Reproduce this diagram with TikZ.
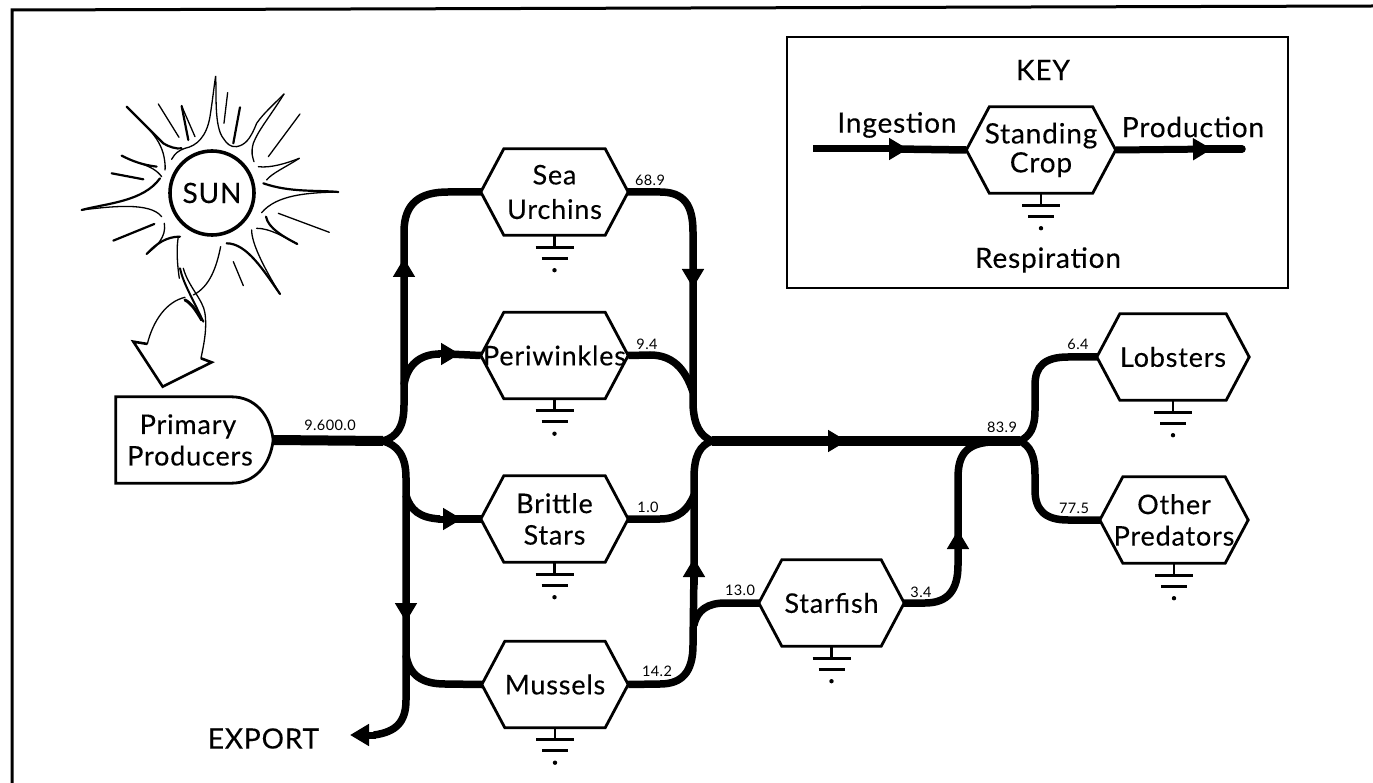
\documentclass[tikz,border=0pt]{standalone}
\usepackage{fontspec}
\setmainfont{Lato}[LetterSpace=3,FakeBold=0.25]
\newfontfamily\labfont{Lato}[LetterSpace=3]
\usetikzlibrary{arrows.meta}
\newcommand{\hexfont}{\fontsize{27}{31.5}\selectfont}
\newcommand{\keyfont}{\fontsize{28}{30}\selectfont}
\tikzset{
  hexbox/.style={minimum width=147pt,minimum height=86pt,inner sep=0pt,align=center,font=\hexfont},
  hexline/.style={line width=2.8pt,line join=miter},
  flow/.style={line width=7.5pt},
  flowmain/.style={line width=10pt},
  flowhead/.style={line width=7pt,-{Triangle[length=19pt,width=21pt]}},
  flowheadmain/.style={flowmain,-{Triangle[length=19pt,width=21pt]}},
  lab/.style={font=\labfont\fontsize{14.5}{15}\selectfont,inner sep=0pt},
  big/.style={font=\keyfont,inner sep=0pt,align=center},
  sunthin/.style={line width=1.3pt,line cap=round},
  sunthick/.style={line width=2.2pt,line cap=round},
}
\newcommand{\hexn}[5]{%
  \node[hexbox,minimum width=#5pt] (#1) at (#2,#3) {#4};
  \draw[hexline] (#1.west) -- ([xshift=23pt]#1.north west) -- ([xshift=-23pt]#1.north east)
     -- (#1.east) -- ([xshift=-23pt]#1.south east) -- ([xshift=23pt]#1.south west) -- cycle;
  \draw[line width=2.8pt] (#1.south) -- ++(0,12);
  \draw[line width=2.8pt] ([shift={(-19,12)}]#1.south) -- ++(38,0);
  \draw[line width=2.8pt] ([shift={(-13,23)}]#1.south) -- ++(26,0);
  \fill ([shift={(0,35)}]#1.south) circle (2.2pt);
}
\begin{document}
\begin{tikzpicture}[x=1pt,y=-1pt]
\useasboundingbox (0,0) rectangle (1373,783);
% frame
\coordinate (frameA) at (12,783);
\coordinate (frameB) at (12,10);
\coordinate (frameC) at (1373,6);
\draw[line width=3pt,line join=miter] (frameA) -- (frameB) -- (frameC);
% key box
\node[draw,line width=2.8pt,minimum width=501pt,minimum height=251pt,inner sep=0pt] (keybox) at (1037.5,162.5) {};
\node[big] (keytitle) at (1043,70) {KEY};
\node[big] (keying) at (897,125) {Ingestion};
\node[big] (keyprod) at (1193,127) {Production};
\node[big] (keyresp) at (1048,260) {Respiration};
\node[hexbox,minimum width=149pt,font=\keyfont,align=center] (keyhex) at (1041,150) {Standing\\[-1pt]Crop};
\draw[hexline] (keyhex.west) -- ([xshift=23pt]keyhex.north west) -- ([xshift=-23pt]keyhex.north east)
   -- (keyhex.east) -- ([xshift=-23pt]keyhex.south east) -- ([xshift=23pt]keyhex.south west) -- cycle;
\draw[line width=2.8pt] (keyhex.south) -- ++(0,12);
\draw[line width=2.8pt] ([shift={(-19,12)}]keyhex.south) -- ++(38,0);
\draw[line width=2.8pt] ([shift={(-13,23)}]keyhex.south) -- ++(26,0);
\fill ([shift={(0,35)}]keyhex.south) circle (2.2pt);
\coordinate (keyA) at (813,149);
\coordinate (keyB) at (908,149);
\coordinate (keyC) at (1212,149);
\coordinate (keyD) at (1242,149);
\draw[flowhead] (keyA) -- (keyB);
\draw[flow] ([xshift=-12pt]keyB) -- (keyhex.west);
\draw[flowhead] (keyhex.east) -- (keyC);
\draw[flow,line cap=round] ([xshift=-12pt]keyC) -- (keyD);
% nodes
\hexn{urch}{554.5}{192}{Sea\\[3pt]Urchins}{147}
\hexn{peri}{554.5}{355.5}{Periwinkles}{147}
\hexn{brit}{554.5}{519}{Brittle\\Stars}{147}
\hexn{muss}{555}{684.5}{\raisebox{-3pt}{Mussels}}{146}
\hexn{star}{831.5}{603}{\raisebox{-3pt}{Starfish}}{145}
\hexn{lobs}{1173}{357}{\raisebox{-3pt}{Lobsters}}{152}
\hexn{pred}{1174}{520}{Other\\Predators}{148}
% primary producers
\node[minimum width=157pt,minimum height=86pt,inner sep=0pt,align=center,font=\hexfont] (prim) at (194.5,440) {Primary\hspace*{13pt}\\Producers\hspace*{9pt}};
\draw[hexline] (prim.east) .. controls ([shift={(-3,-25)}]prim.east) and ([shift={(-18,0)}]prim.north east) .. ([xshift=-42pt]prim.north east)
  -- (prim.north west) -- (prim.south west) -- ([xshift=-42pt]prim.south east)
  .. controls ([shift={(-18,0)}]prim.south east) and ([shift={(-3,25)}]prim.east) .. (prim.east);
% junctions
\coordinate (jl) at (383,441);
\coordinate (jm) at (712,441);
\coordinate (je) at (1020,441);
\coordinate (up) at (404,258);
\coordinate (dn) at (406,622);
\coordinate (pa) at (460,354);
\coordinate (ba) at (462,519);
\coordinate (ta) at (693,288);
\coordinate (ua) at (694,558);
\coordinate (ma) at (847,441);
\coordinate (sa) at (958,530);
\coordinate (ex) at (350,735);
% flows left
\draw[flowmain] (prim.east) -- (jl);
\draw[flow] (jl) .. controls (397,437) and (404,427) .. (404,405) -- (404,270);
\draw[flowhead] (404,285) -- (up);
\draw[flow] (404,270) -- (404,232) .. controls (404,203) and (420,192) .. (448,192) -- (urch.west);
\draw[flow] (404,385) .. controls (407,365) and (420,354) .. (440,354);
\draw[flowhead] (438,354) -- (pa);
\draw[flow] (448,354) -- (peri.west);
\draw[flow] (jl) .. controls (397,445) and (406,455) .. (406,478) -- (406,610);
\draw[flowhead] (406,595) -- (dn);
\draw[flow] (406,610) -- (406,700) .. controls (406,722) and (396,732) .. (374,735);
\draw[flowhead] (376,735) -- (ex);
\draw[flow] (406,495) .. controls (410,510) and (420,518) .. (440,519);
\draw[flowhead] (438,519) -- (ba);
\draw[flow] (450,519) -- (brit.west);
\draw[flow] (406,655) .. controls (409,675) and (422,684) .. (445,684) -- (muss.west);
% flows right
\draw[flow] (urch.east) -- (660,192) .. controls (684,192) and (693,205) .. (693,232) -- (693,276);
\draw[flowhead] (693,262) -- (ta);
\draw[flow] (693,276) -- (693,405) .. controls (694,425) and (700,436) .. (jm);
\draw[flow] (peri.east) -- (650,355) .. controls (672,355) and (685,368) .. (693,392);
\draw[flow] (muss.east) -- (660,684) .. controls (682,684) and (693,672) .. (693,645) -- (694,570);
\draw[flowhead] (694,585) -- (ua);
\draw[flow] (694,570) -- (694,478) .. controls (694,456) and (700,445) .. (jm);
\draw[flow] (brit.east) -- (660,519) .. controls (678,519) and (688,510) .. (694,495);
\draw[flow] (694,625) .. controls (697,610) and (708,603) .. (725,603) -- (star.west);
\draw[flowheadmain] (jm) -- (ma);
\draw[flowmain] (835,441) -- (je);
\draw[flow] (star.east) -- (925,603) .. controls (948,603) and (958,590) .. (958,565) -- (958,542);
\draw[flowhead] (958,555) -- (sa);
\draw[flow] (958,542) -- (958,478) .. controls (958,455) and (966,444) .. (990,442);
\draw[flow] (je) .. controls (1030,436) and (1035,428) .. (1035,410) -- (1035,385) .. controls (1035,366) and (1045,357) .. (1068,357) -- (lobs.west);
\draw[flow] (je) .. controls (1030,446) and (1035,455) .. (1035,475) -- (1035,490) .. controls (1035,510) and (1045,520) .. (1068,520) -- (pred.west);
% labels
\node[lab] (l1) at (330,425) {9.600.0};
\node[lab] (l2) at (650,180) {68.9};
\node[lab] (l3) at (647,344) {9.4};
\node[lab] (l4) at (648,507) {1.0};
\node[lab] (l5) at (657,671) {14.2};
\node[lab] (l6) at (740,590) {13.0};
\node[lab] (l7) at (921,592) {3.4};
\node[lab] (l8) at (1002,427) {83.9};
\node[lab] (l9) at (1078,344) {6.4};
\node[lab] (l10) at (1074,508) {77.5};
\node[inner sep=0pt,font=\fontsize{28}{30}\selectfont] (export) at (263.5,738.5) {EXPORT};
% sun
\node[draw,circle,line width=3.6pt,minimum size=84pt,inner sep=0pt,font=\fontsize{28}{30}\selectfont] (sun) at (212,193) {SUN};
\begin{scope}[x=0.3333pt,y=-0.3333pt,shift={(180,60)}]
\draw[sunthin] (335,418) .. controls (345,400) and (355,392) .. (375,385) .. controls (410,378) and (440,350) .. (450,290) .. controls (458,240) and (462,200) .. (467,168)
  .. controls (470,220) and (462,320) .. (490,355) .. controls (500,370) and (510,382) .. (530,380) .. controls (555,375) and (570,360) .. (590,310) .. controls (610,280) and (650,245) .. (672,222);
\draw[sunthin] (672,222) .. controls (630,290) and (595,330) .. (580,370) .. controls (572,400) and (578,410) .. (582,425);
\draw[sunthick] (200,260) .. controls (240,300) and (275,335) .. (310,370) .. controls (325,380) and (350,388) .. (365,385);
\draw[sunthin] (200,260) .. controls (250,310) and (300,350) .. (312,410) .. controls (316,430) and (316,445) .. (315,450);
\draw[sunthick] (835,516) .. controls (770,510) and (690,518) .. (610,490);
\draw[sunthin] (835,516) .. controls (740,518) and (650,525) .. (605,578);
\draw[sunthick] (65,570) .. controls (140,550) and (250,545) .. (300,475);
\draw[sunthin] (65,570) .. controls (150,560) and (270,545) .. (305,590);
\draw[sunthin] (575,630) .. controls (575,670) and (610,740) .. (660,822);
\draw[sunthick] (500,670) .. controls (560,670) and (610,750) .. (660,822);
\draw[sunthin] (595,440) .. controls (630,445) and (680,430) .. (718,415);
\draw[sunthin] (620,480) .. controls (635,460) and (680,440) .. (718,415);
\draw[sunthin] (590,625) .. controls (630,625) and (670,650) .. (712,672);
\draw[sunthick] (618,590) .. controls (625,625) and (670,650) .. (712,672);
\draw[sunthick] (260,702) .. controls (290,670) and (320,650) .. (360,650);
\draw[sunthin] (260,702) .. controls (290,680) and (320,650) .. (313,610);
\draw[sunthick] (185,407) .. controls (220,425) and (250,435) .. (290,440);
\draw[sunthin] (240,430) .. controls (270,440) and (290,450) .. (305,470);
\draw[sunthick] (155,460) -- (250,478);
\draw[sunthick] (160,662) -- (283,612);
\draw[sunthin] (295,252) -- (357,352);
\draw[sunthick] (365,258) -- (385,360);
\draw[sunthin] (365,258) -- (405,350);
\draw[sunthin] (503,218) -- (492,310);
\draw[sunthick] (540,262) -- (520,370);
\draw[sunthin] (720,282) -- (625,410);
\draw[sunthin] (655,580) -- (808,637);
\draw[sunthin] (520,725) -- (550,797);
% ray of light
\draw[sunthin] (355,650) .. controls (350,680) and (350,720) .. (358,775);
\draw[sunthin] (482,680) .. controls (470,740) and (450,800) .. (400,825);
\draw[line width=2pt,line cap=round] (360,745) .. controls (370,790) and (395,830) .. (430,905);
\draw[sunthin] (370,745) .. controls (385,800) and (430,840) .. (435,880) .. controls (442,930) and (430,980) .. (423,1015);
\draw[line width=3pt,line cap=round] (375,840) .. controls (395,850) and (410,875) .. (425,900);
\draw[sunthin] (375,832) .. controls (320,845) and (280,900) .. (262,972);
\draw[line width=2.6pt,line join=miter] (262,972) -- (220,965) -- (308,1100) -- (455,1027) -- (423,1015);
\end{scope}
\end{tikzpicture}
\end{document}
